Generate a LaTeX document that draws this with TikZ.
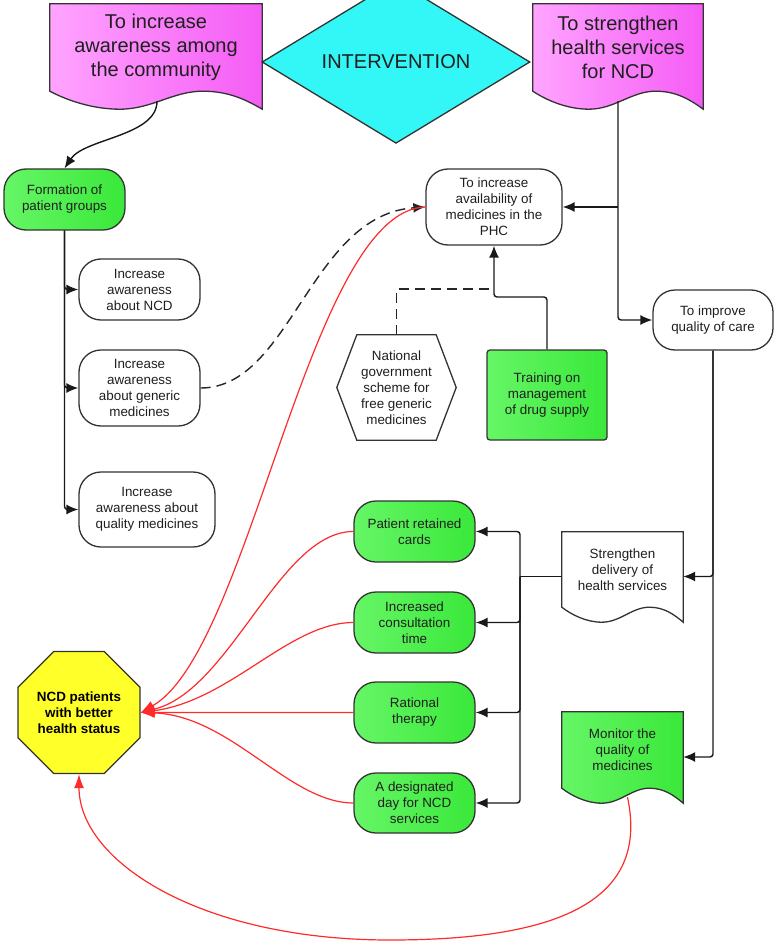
\documentclass[tikz,border=0pt]{standalone}
\usepackage{fontspec}
\setmainfont{Liberation Sans}
\usetikzlibrary{shapes.geometric,arrows.meta,calc}
\pgfdeclarelayer{background}
\pgfsetlayers{background,main}
\definecolor{pinkL}{HTML}{FFA4FF}
\definecolor{pinkR}{HTML}{F55CF5}
\definecolor{greenL}{HTML}{66F666}
\definecolor{greenR}{HTML}{3AE83A}
\definecolor{cyanF}{HTML}{33F7F7}
\definecolor{yellowF}{HTML}{FFFF2A}
\definecolor{edge}{HTML}{333333}
\definecolor{redline}{HTML}{FF2A2A}
\newcommand{\docshape}[3]{%
  \path[#2] let \p1=(#1.south west), \p2=(#1.north east) in
    (\x1,\y2) -- (\x2,\y2) -- (\x2,{\y1-#3})
    .. controls ({\x2-0.08*(\x2-\x1)},{\y1-0.45*#3}) and ({\x2-0.16*(\x2-\x1)},{\y1}) .. ({\x2-0.28*(\x2-\x1)},{\y1})
    .. controls ({\x2-0.42*(\x2-\x1)},{\y1}) and ({\x1+0.48*(\x2-\x1)},{\y1-#3}) .. ({\x1+0.33*(\x2-\x1)},{\y1-#3})
    .. controls ({\x1+0.2*(\x2-\x1)},{\y1-#3}) and ({\x1+0.08*(\x2-\x1)},{\y1-0.5*#3}) .. (\x1,\y1) -- cycle;}
\tikzset{
  base/.style={inner sep=0pt, align=center, text=black!88, font=\fontsize{13.4}{16}\selectfont},
  term/.style={base, draw=edge, line width=1.3pt, rounded corners=22pt, fill=white},
  termg/.style={term, left color=greenL, right color=greenR},
  big/.style={base, font=\fontsize{20}{24}\selectfont},
  shapeline/.style={draw=edge, line width=1.3pt},
  line/.style={draw=black!90, line width=1.4pt, rounded corners=3pt},
  arr/.style={line, -{Latex[length=12pt,width=10pt]}},
  dashline/.style={draw=black!85, line width=1.4pt, dash pattern=on 10pt off 6pt},
  redarr/.style={draw=redline, line width=1.2pt, -{Latex[length=14pt,width=10pt]}}
}
\begin{document}
\begin{tikzpicture}[x=1pt,y=-1pt]
\useasboundingbox (0,0) rectangle (778,944);
% top row
\node[big, minimum width=212pt, minimum height=87pt] (aware) at (156,47.5) {To increase\\awareness among\\the community};
\node[big, shape=diamond, draw=edge, line width=1.3pt, fill=cyanF, minimum width=268pt, minimum height=89pt] (interv) at (396,62) {INTERVENTION};
\node[big, minimum width=170pt, minimum height=87pt] (strength) at (618,47.5) {To strengthen\\health services\\for NCD};
% left column
\node[termg, minimum width=121pt, minimum height=61pt] (form) at (64.5,199.5) {Formation of\\patient groups};
\node[term, minimum width=121pt, minimum height=61pt] (ncdaw) at (139.5,289.5) {Increase\\awareness\\about NCD};
\node[term, minimum width=121pt, minimum height=76pt] (generic) at (139.5,388) {Increase\\awareness\\about generic\\medicines};
\node[term, minimum width=136pt, minimum height=75pt] (quality) at (147,509.5) {Increase\\awareness about\\quality medicines};
% middle / right
\node[term, minimum width=136pt, minimum height=76pt] (phc) at (494,207) {To increase\\availability of\\medicines in the\\PHC};
\node[term, minimum width=120pt, minimum height=60pt] (improve) at (713,320) {To improve\\quality of care};
\node[base, minimum width=119pt, minimum height=105pt] (hex) at (396.5,387.5) {National\\government\\scheme for\\free generic\\medicines};
\node[base, draw=edge, line width=1.3pt, rounded corners=3pt, left color=greenL, right color=greenR, minimum width=120pt, minimum height=90pt] (train) at (547,395) {Training on\\management\\of drug supply};
% green interventions
\node[termg, minimum width=121pt, minimum height=61pt] (cards) at (414.5,531.5) {Patient retained\\cards};
\node[termg, minimum width=121pt, minimum height=61pt] (consult) at (414.5,622.5) {Increased\\consultation\\time};
\node[termg, minimum width=121pt, minimum height=61pt] (rational) at (414.5,712.5) {Rational\\therapy};
\node[termg, minimum width=121pt, minimum height=60pt] (dday) at (414.5,803) {A designated\\day for NCD\\services};
\node[base, minimum width=121pt, minimum height=75pt] (sd) at (622.5,569.5) {Strengthen\\delivery of\\health services};
\node[base, minimum width=121pt, minimum height=76pt] (mon) at (622.5,750) {Monitor the\\quality of\\medicines};
\node[base, font=\fontsize{13.4}{16}\selectfont\bfseries, text=black, regular polygon, regular polygon sides=8, minimum size=132pt, draw=edge, line width=1.3pt, fill=yellowF] (oct) at (79,712.5) {NCD patients\\with better\\health status};
% shapes drawn behind
\begin{pgfonlayer}{background}
\docshape{aware}{shapeline, left color=pinkL, right color=pinkR}{18pt}
\docshape{strength}{shapeline, left color=pinkL, right color=pinkR}{18pt}
\docshape{sd}{shapeline, fill=white}{15pt}
\docshape{mon}{shapeline, left color=greenL, right color=greenR}{15pt}
\draw[shapeline, fill=white] ($(hex.north west)+(20,0)$) -- ($(hex.north east)+(-20,0)$) -- (hex.east) -- ($(hex.south east)+(-20,0)$) -- ($(hex.south west)+(20,0)$) -- (hex.west) -- cycle;
\end{pgfonlayer}
% connectors
\draw[arr] ($(aware.south)+(1,10)$) .. controls +(0,35) and +(20,-30) .. (form.north);
\draw[arr] (form.south) |- (ncdaw.west);
\draw[arr] (form.south) |- (generic.west);
\draw[arr] (form.south) |- (quality.west);
\draw[arr] ($(strength.south)+(0,10)$) |- (improve.west);
\draw[arr] (phc.east -| strength.south) -- (phc.east);
\draw[dashline, -{Latex[length=12pt,width=10pt]}] (generic.east) .. controls +(90,0) and +(-115,8) .. (phc.west);
\coordinate (j1) at (494,289);
\coordinate (j2) at (494,297);
\draw[dashline] (hex.north) |- (j1);
\draw[arr] (train.north) |- (j2) -- (phc.south);
\draw[arr] (improve.south) |- ([yshift=-7pt]sd.east);
\draw[arr] (improve.south) |- ([yshift=-7pt]mon.east);
\coordinate (bus) at (520,576.5);
\draw[line] ([yshift=-7pt]sd.west) -- (bus);
\draw[arr] (bus) |- (cards.east);
\draw[arr] (bus) |- (consult.east);
\draw[arr] (bus) |- (rational.east);
\draw[arr] (bus) |- (dday.east);
% red outcome links
\draw[redarr] (phc.west) .. controls +(-116,3) and +(110,-62) .. (oct.east);
\draw[redarr] (cards.west) .. controls +(-74,0) and +(90,-22) .. (oct.east);
\draw[redarr] (consult.west) .. controls +(-64,0) and +(90,-12) .. (oct.east);
\draw[redarr] (rational.west) -- (oct.east);
\draw[redarr] (dday.west) .. controls +(-64,0) and +(90,3) .. (oct.east);
\coordinate (loopc) at (390,940);
\draw[draw=redline, line width=1.2pt] ($(mon.south)+(5,9)$) .. controls +(22,103) and +(170,0) .. (loopc);
\draw[redarr] (loopc) .. controls +(-190,0) and +(0,87) .. (oct.south);
\end{tikzpicture}
\end{document}
